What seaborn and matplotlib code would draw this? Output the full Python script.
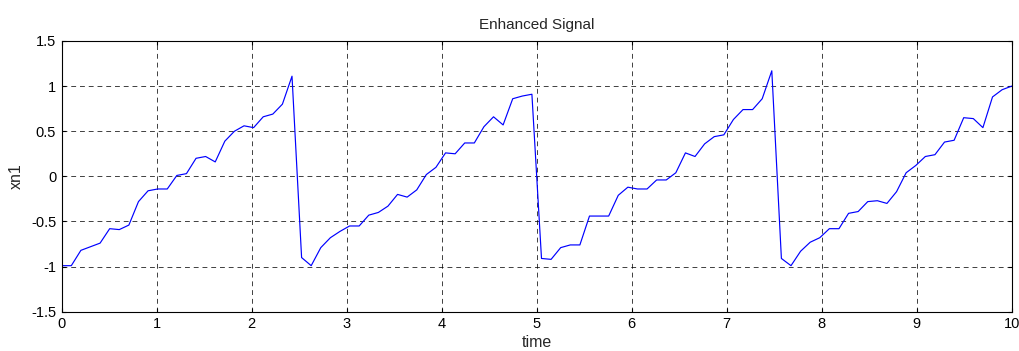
import numpy as np
import pandas as pd
import matplotlib
matplotlib.use("Agg")
import matplotlib.pyplot as plt
import seaborn as sns

# Sample times and enhanced signal values
time = np.linspace(0, 10, 100)
xn1 = [
    -0.99, -0.99, -0.82, -0.78, -0.74, -0.58, -0.59, -0.54, -0.28, -0.16,
    -0.14, -0.14, 0.01, 0.03, 0.20, 0.22, 0.16, 0.39, 0.50, 0.56,
    0.54, 0.66, 0.69, 0.80, 1.11, -0.90, -0.99, -0.79, -0.68, -0.61,
    -0.55, -0.55, -0.43, -0.40, -0.33, -0.20, -0.23, -0.15, 0.02, 0.10,
    0.26, 0.25, 0.37, 0.37, 0.55, 0.66, 0.57, 0.86, 0.89, 0.91,
    -0.91, -0.92, -0.79, -0.76, -0.76, -0.44, -0.44, -0.44, -0.21, -0.12,
    -0.14, -0.14, -0.04, -0.04, 0.04, 0.26, 0.22, 0.36, 0.44, 0.46,
    0.63, 0.74, 0.74, 0.86, 1.17, -0.91, -0.99, -0.83, -0.73, -0.68,
    -0.58, -0.58, -0.41, -0.39, -0.28, -0.27, -0.30, -0.17, 0.04, 0.12,
    0.22, 0.24, 0.38, 0.40, 0.65, 0.64, 0.54, 0.88, 0.96, 1.00,
]
x_ticks = [0, 1, 2, 3, 4, 5, 6, 7, 8, 9, 10]
y_ticks = [-1.5, -1, -0.5, 0, 0.5, 1, 1.5]
y_tick_labels = ["-1.5", "-1", "-0.5", "0", "0.5", "1", "1.5"]

df = pd.DataFrame({"time": time, "xn1": xn1})

sns.set_style("white")
plt.rcParams["font.family"] = ["Liberation Sans", "DejaVu Sans"]

fig = plt.figure(figsize=(10.2, 3.51), dpi=100)
ax = fig.add_axes([61.7 / 1020, 1 - 311.7 / 351, 950 / 1020, 270.7 / 351])

sns.lineplot(data=df, x="time", y="xn1", ax=ax, color="#0000ff",
             linewidth=0.85, estimator=None, sort=False)

ax.set_xlim(0, 10)
ax.set_ylim(-1.5, 1.5)
ax.set_xticks(x_ticks)
ax.set_xticklabels([str(t) for t in x_ticks])
ax.set_yticks(y_ticks)
ax.set_yticklabels(y_tick_labels)

ax.grid(True, color="black", linestyle=(0, (5, 4)), linewidth=0.7, alpha=0.75)
ax.set_axisbelow(True)

for side in ["top", "right", "bottom", "left"]:
    ax.spines[side].set_visible(True)
    ax.spines[side].set_color("black")
    ax.spines[side].set_linewidth(0.8)

ax.tick_params(direction="in", length=3, width=0.8, colors="black",
               labelsize=10.5, top=True, right=True, bottom=True, left=True,
               labeltop=False, labelright=False, pad=4)

ax.set_title("Enhanced Signal", fontsize=11, pad=9)
ax.set_xlabel("time", fontsize=11.5, labelpad=3)
ax.set_ylabel("xn1", fontsize=11.5, labelpad=5)

fig.savefig("out.png", dpi=100)
